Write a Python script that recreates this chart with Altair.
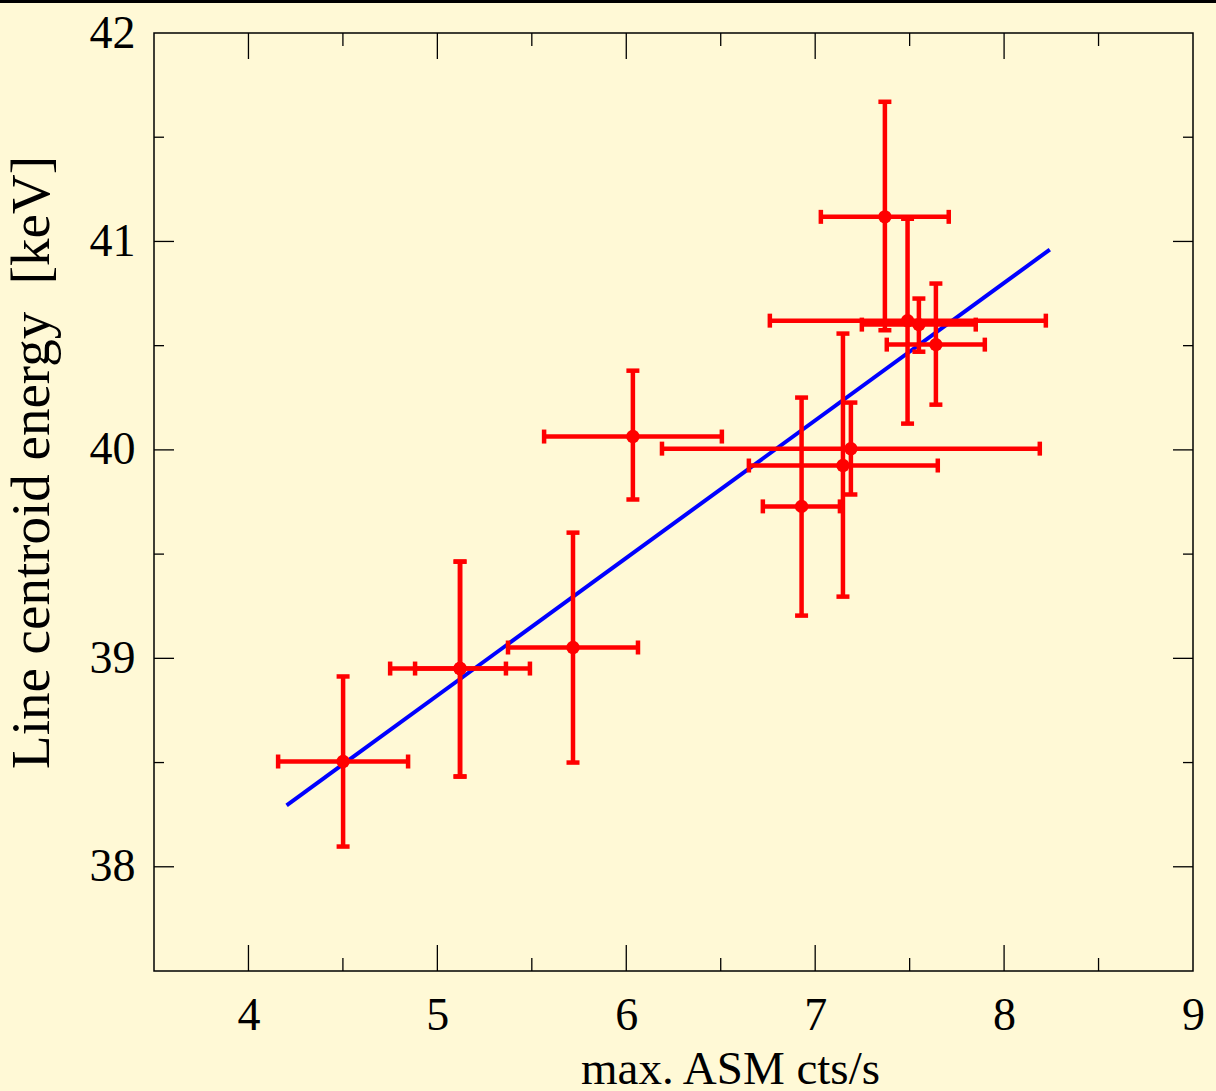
import altair as alt
import pandas as pd

# ---- data ----
asm_x = [4.501, 5.120, 5.120, 5.718, 6.035, 6.928, 7.147, 7.189, 7.369, 7.489, 7.549, 7.639]
asm_xlo = [4.157, 4.750, 4.882, 5.374, 5.565, 6.723, 6.649, 6.189, 7.030, 6.760, 7.247, 7.379]
asm_xhi = [4.845, 5.490, 5.363, 6.062, 6.506, 7.131, 7.649, 8.189, 7.707, 8.221, 7.850, 7.898]
energy = [38.505, 38.951, 38.951, 39.052, 40.064, 39.729, 39.925, 40.006, 41.118, 40.620, 40.601, 40.505]
energy_lo = [38.097, 38.433, 38.433, 38.500, 39.762, 39.205, 39.296, 39.786, 40.574, 40.126, 40.471, 40.217]
energy_hi = [38.913, 39.464, 39.464, 39.603, 40.380, 40.251, 40.558, 40.227, 41.670, 41.109, 40.726, 40.798]

fit_x = [4.202, 8.242]
fit_y = [38.295, 40.961]

x_major = [4, 5, 6, 7, 8]
x_minor = [4.5, 5.5, 6.5, 7.5, 8.5]
y_major = [38, 39, 40, 41]
y_minor = [38.5, 39.5, 40.5, 41.5]
x_labels = [4, 5, 6, 7, 8, 9]
y_labels = [38, 39, 40, 41, 42]

W, H = 1039, 938
FONT = "Liberation Serif"
RED = "#ff0000"
X_TITLE = "max. ASM cts/s"
Y_TITLE = "Line centroid energy\u00a0 [keV]"

df = pd.DataFrame({"x": asm_x, "xlo": asm_xlo, "xhi": asm_xhi,
                   "y": energy, "ylo": energy_lo, "yhi": energy_hi})
fit = pd.DataFrame({"x": fit_x, "y": fit_y})

xs = alt.Scale(domain=[3.5, 9], nice=False, zero=False)
ys = alt.Scale(domain=[37.5, 42], nice=False, zero=False)

x_axis = alt.Axis(values=x_labels, ticks=False, domain=False, grid=False,
                  labelFontSize=46, labelPadding=22, labelFlush=False, labelOverlap=False,
                  title=X_TITLE, titleFontSize=47, titleX=576, titleY=112,
                  titleBaseline="alphabetic", titleAlign="center")
y_axis = alt.Axis(values=y_labels, ticks=False, domain=False, grid=False,
                  labelFontSize=46, labelPadding=19, labelFlush=False, labelOverlap=False,
                  title=Y_TITLE, titleFontSize=55,
                  titleX=-106, titleY=429, titleAngle=270,
                  titleBaseline="alphabetic", titleAlign="center")


def X(f):
    return alt.X(f, scale=xs, axis=x_axis, title=X_TITLE)


def Y(f):
    return alt.Y(f, scale=ys, axis=y_axis, title=Y_TITLE)


base = alt.Chart(df)
BW = 4.5

hbar = base.mark_rule(color=RED, strokeWidth=BW, opacity=1).encode(
    x=X("xlo:Q"), x2="xhi:Q", y=Y("y:Q"))
vbar = base.mark_rule(color=RED, strokeWidth=BW, opacity=1).encode(
    x=X("x:Q"), y=Y("ylo:Q"), y2="yhi:Q")
cap_xlo = base.mark_tick(color=RED, orient="vertical", size=14, thickness=4.5, opacity=1).encode(
    x=X("xlo:Q"), y=Y("y:Q"))
cap_xhi = base.mark_tick(color=RED, orient="vertical", size=14, thickness=4.5, opacity=1).encode(
    x=X("xhi:Q"), y=Y("y:Q"))
cap_ylo = base.mark_tick(color=RED, orient="horizontal", size=13, thickness=4.5, opacity=1).encode(
    x=X("x:Q"), y=Y("ylo:Q"))
cap_yhi = base.mark_tick(color=RED, orient="horizontal", size=13, thickness=4.5, opacity=1).encode(
    x=X("x:Q"), y=Y("yhi:Q"))
pts = base.mark_circle(color=RED, size=180, opacity=1).encode(
    x=X("x:Q"), y=Y("y:Q"))

line = alt.Chart(fit).mark_line(color="#0000ff", strokeWidth=4).encode(
    x=X("x:Q"), y=Y("y:Q"))


def xticks(vals, y0, y1):
    return alt.Chart(pd.DataFrame({"v": vals})).mark_rule(color="black", strokeWidth=1.3).encode(
        x=X("v:Q"), y=alt.value(y0), y2=alt.value(y1))


def yticks(vals, x0, x1):
    return alt.Chart(pd.DataFrame({"v": vals})).mark_rule(color="black", strokeWidth=1.3).encode(
        y=Y("v:Q"), x=alt.value(x0), x2=alt.value(x1))


ticks = [
    xticks(x_major, H, H - 26), xticks(x_minor, H, H - 13),
    xticks(x_major, 0, 26), xticks(x_minor, 0, 13),
    yticks(y_major, 0, 20), yticks(y_minor, 0, 10),
    yticks(y_major, W, W - 20), yticks(y_minor, W, W - 10),
]

top_band = alt.Chart(pd.DataFrame({"v": [0]})).mark_rule(color="black", strokeWidth=3).encode(
    x=alt.value(-160), x2=alt.value(W + 40), y=alt.value(-31.5))

chart = alt.layer(*ticks, line, hbar, vbar, cap_xlo, cap_xhi, cap_ylo, cap_yhi, pts, top_band).properties(
    width=W, height=H,
    autosize=alt.AutoSizeParams(type="none"),
    padding={"left": 154, "top": 33, "right": 23, "bottom": 120},
    background="#fff9d6",
).configure_view(
    stroke="black", strokeWidth=1.5, fill="#fff9d6"
).configure_axis(
    labelFont=FONT, titleFont=FONT, labelColor="black", titleColor="black",
    titleFontWeight="normal"
)

chart.save("out.html", embed_options={"renderer": "svg", "actions": False})
